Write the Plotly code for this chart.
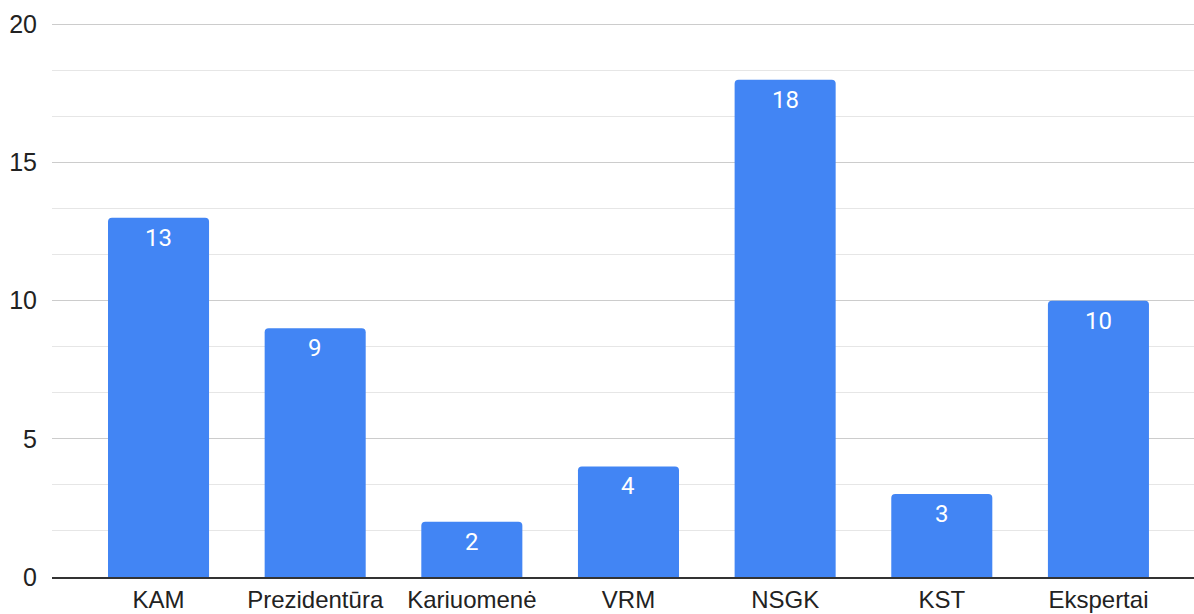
import plotly.graph_objects as go

categories = ["KAM", "Prezidentūra", "Kariuomenė", "VRM", "NSGK", "KST", "Ekspertai"]
values = [13, 9, 2, 4, 18, 3, 10]
y_ticks = [0, 5, 10, 15, 20]

xs = list(range(len(categories)))

fig = go.Figure(
    go.Bar(
        x=xs,
        y=values,
        width=0.645,
        marker=dict(color="#4285F4", line=dict(width=0)),
        hoverinfo="skip",
    )
)

for xi, v in zip(xs, values):
    fig.add_annotation(
        x=xi, y=v, text=str(v), showarrow=False,
        yanchor="middle", xanchor="center", yshift=-20,
        font=dict(family="Roboto", size=24, color="white"),
    )

fig.update_layout(
    width=1194,
    height=614,
    margin=dict(l=52, r=0, t=23, b=37, autoexpand=False),
    plot_bgcolor="white",
    paper_bgcolor="white",
    barcornerradius=4,
    showlegend=False,
    font=dict(family="Liberation Sans, Arial, sans-serif", size=25, color="#222222"),
    xaxis=dict(
        range=[-0.68, 6.61],
        tickmode="array",
        tickvals=xs,
        ticktext=categories,
        tickfont=dict(size=24),
        showgrid=False,
        zeroline=False,
        showline=True,
        linecolor="#333333",
        linewidth=1.5,
        ticks="",
        ticklabelstandoff=0,
        automargin=False,
        fixedrange=True,
    ),
    yaxis=dict(
        range=[0, 20.05],
        tickmode="array",
        tickvals=y_ticks,
        showgrid=True,
        gridcolor="#cccccc",
        gridwidth=1,
        zeroline=False,
        showline=False,
        ticks="",
        ticklabelstandoff=14,
        automargin=False,
        minor=dict(tick0=0, dtick=5 / 3, showgrid=True, gridcolor="#e6e6e6", gridwidth=1),
        fixedrange=True,
    ),
)

fig.write_html("out.html")
